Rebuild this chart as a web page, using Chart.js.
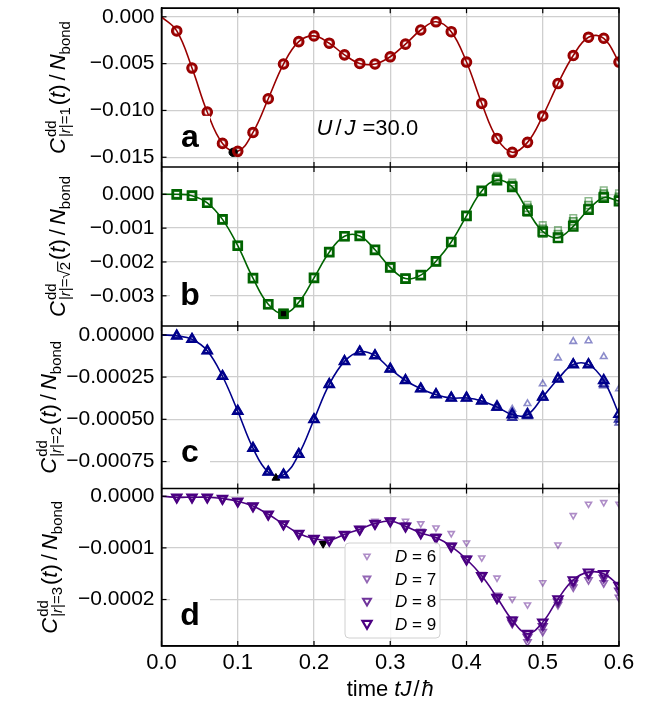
<!DOCTYPE html>
<html><head><meta charset="utf-8">
<script src="https://cdn.jsdelivr.net/npm/chart.js@4.4.1/dist/chart.umd.min.js"></script>
<style>html,body{margin:0;padding:0;background:#fff;}#wrap{position:relative;width:665px;height:707px;}canvas{display:block;}</style>
</head><body><div id="wrap"><canvas id="c" width="665" height="707"></canvas></div>
<script>
// ---------- data ----------
const times = [0.02,0.04,0.06,0.08,0.10,0.12,0.14,0.16,0.18,0.20,0.22,0.24,0.26,0.28,0.30,0.32,0.34,0.36,0.38,0.40,0.42,0.44,0.46,0.48,0.50,0.52,0.54,0.56,0.58,0.60];
const seriesLabels = ['D = 6','D = 7','D = 8','D = 9'];
const xTickValues = [0,0.1,0.2,0.3,0.4,0.5,0.6];
const xTickLabels = ['0.0','0.1','0.2','0.3','0.4','0.5','0.6'];

const yTicksA = [0,-0.005,-0.010,-0.015];
const yTickLabelsA = ['0.000','\u22120.005','\u22120.010','\u22120.015'];
const yRangeA = [-0.01603, 0.00092];
const yTicksB = [0,-0.001,-0.002,-0.003];
const yTickLabelsB = ['0.000','\u22120.001','\u22120.002','\u22120.003'];
const yRangeB = [-0.00389, 0.00081];
const yTicksC = [0,-0.00025,-0.0005,-0.00075];
const yTickLabelsC = ['0.00000','\u22120.00025','\u22120.00050','\u22120.00075'];
const yRangeC = [-0.00091, 0.000053];
const yTicksD = [0,-0.0001,-0.0002];
const yTickLabelsD = ['0.0000','\u22120.0001','\u22120.0002'];
const yRangeD = [-0.00029, 0.0000148];

// panel a: all D coincide
const aAllD = [-0.00151,-0.00547,-0.01017,-0.01352,-0.01437,-0.01235,-0.00875,-0.00504,-0.00265,-0.00204,-0.00282,-0.00406,-0.00498,-0.00504,-0.00427,-0.00292,-0.00141,-0.00053,-0.00159,-0.00483,-0.00925,-0.01299,-0.01447,-0.01341,-0.01059,-0.00713,-0.00413,-0.00218,-0.00229,-0.00483];

const bD9 = [0,-0.00004,-0.00025,-0.00074,-0.00152,-0.00248,-0.00325,-0.00353,-0.00319,-0.00247,-0.00171,-0.00124,-0.00123,-0.00164,-0.00216,-0.00249,-0.00239,-0.00198,-0.00141,-0.00064,0.00010,0.00042,0.00022,-0.00048,-0.00110,-0.00128,-0.00095,-0.00045,-0.00010,-0.00020];
const bD8 = [0,-0.00004,-0.00025,-0.00074,-0.00152,-0.00248,-0.00325,-0.00353,-0.00319,-0.00247,-0.00171,-0.00124,-0.00123,-0.00164,-0.00216,-0.00249,-0.00239,-0.00198,-0.00141,-0.00064,0.00010,0.00045,0.00024,-0.00052,-0.00114,-0.00130,-0.00090,-0.00042,-0.00006,-0.00016];
const bD7 = [0,-0.00004,-0.00025,-0.00074,-0.00152,-0.00248,-0.00325,-0.00353,-0.00319,-0.00247,-0.00171,-0.00124,-0.00123,-0.00164,-0.00216,-0.00249,-0.00239,-0.00198,-0.00141,-0.00064,0.00010,0.00050,0.00028,-0.00040,-0.00102,-0.00118,-0.00080,-0.00032,0.00002,-0.00008];
const bD6 = [0,-0.00004,-0.00025,-0.00074,-0.00152,-0.00248,-0.00325,-0.00353,-0.00319,-0.00247,-0.00171,-0.00124,-0.00123,-0.00164,-0.00216,-0.00249,-0.00239,-0.00198,-0.00141,-0.00064,0.00010,0.00055,0.00035,-0.00031,-0.00091,-0.00106,-0.00070,-0.00020,0.00012,0.00003];

const cD9 = [-0.000006,-0.000026,-0.000094,-0.000245,-0.000452,-0.000671,-0.000812,-0.000828,-0.000707,-0.000501,-0.000293,-0.000157,-0.000100,-0.000123,-0.000202,-0.000270,-0.000319,-0.000354,-0.000374,-0.000374,-0.000391,-0.000427,-0.000472,-0.000472,-0.000368,-0.000261,-0.000176,-0.000176,-0.000270,-0.000470];
const cD8 = [-0.000006,-0.000026,-0.000094,-0.000245,-0.000452,-0.000671,-0.000812,-0.000828,-0.000707,-0.000501,-0.000293,-0.000157,-0.000100,-0.000123,-0.000202,-0.000270,-0.000319,-0.000354,-0.000374,-0.000374,-0.000391,-0.000430,-0.000490,-0.000480,-0.000370,-0.000260,-0.000176,-0.000176,-0.000290,-0.000500];
const cD7 = [-0.000006,-0.000026,-0.000094,-0.000245,-0.000452,-0.000671,-0.000812,-0.000828,-0.000707,-0.000501,-0.000293,-0.000157,-0.000100,-0.000123,-0.000202,-0.000270,-0.000319,-0.000354,-0.000370,-0.000372,-0.000385,-0.000420,-0.000460,-0.000460,-0.000360,-0.000250,-0.000170,-0.000170,-0.000300,-0.000520];
const cD6 = [-0.000006,-0.000026,-0.000094,-0.000245,-0.000452,-0.000671,-0.000812,-0.000828,-0.000707,-0.000501,-0.000293,-0.000157,-0.000100,-0.000123,-0.000202,-0.000270,-0.000319,-0.000340,-0.000360,-0.000360,-0.000380,-0.000410,-0.000440,-0.000407,-0.000290,-0.000137,-0.000039,-0.000035,-0.000129,-0.000320];

const dD9 = [-0.000002,-0.000002,-0.000002,-0.0000045,-0.0000096,-0.000019,-0.000035,-0.000054,-0.000072,-0.000082,-0.000085,-0.000074,-0.000064,-0.000053,-0.000048,-0.000058,-0.000071,-0.000080,-0.000097,-0.000122,-0.000154,-0.000196,-0.000240,-0.000266,-0.000244,-0.000199,-0.000162,-0.000147,-0.000150,-0.000173];
const dD8 = [-0.000002,-0.000002,-0.000002,-0.0000045,-0.0000096,-0.000019,-0.000035,-0.000054,-0.000072,-0.000082,-0.000085,-0.000074,-0.000064,-0.000053,-0.000048,-0.000058,-0.000071,-0.000080,-0.000097,-0.000122,-0.000154,-0.000198,-0.000245,-0.000272,-0.000252,-0.000204,-0.000168,-0.000152,-0.000158,-0.000183];
const dD7 = [-0.000002,-0.000002,-0.000002,-0.0000045,-0.0000096,-0.000019,-0.000035,-0.000054,-0.000072,-0.000082,-0.000085,-0.000074,-0.000064,-0.000053,-0.000048,-0.000056,-0.000068,-0.000078,-0.000095,-0.000120,-0.000152,-0.000192,-0.000238,-0.000282,-0.000262,-0.000210,-0.000176,-0.000162,-0.000168,-0.000196];
const dD6 = [-0.000002,-0.000002,-0.000002,-0.0000045,-0.0000096,-0.000019,-0.000035,-0.000054,-0.000072,-0.000082,-0.000085,-0.000074,-0.000062,-0.000048,-0.000045,-0.000048,-0.000053,-0.000061,-0.000072,-0.000090,-0.000119,-0.000158,-0.000199,-0.000210,-0.000167,-0.000094,-0.000037,-0.000015,-0.000012,-0.000015];

// black reference markers (one per panel a..d)
const minTimes = [0.094, 0.16, 0.150, 0.212];
const minValues = [-0.01447, -0.00355, -0.000847, -0.000092];

// ---------- styles ----------
const FONT = '"Liberation Sans", Arial, Helvetica, sans-serif';
const alphas = [0.45, 0.6, 0.8, 1.0];
const panelDefs = [
  {axis:'ya', rgb:[153,0,0], style:'circle', rot:0, radii:[3.2,3.7,4.2,4.7], bw:[1.6,1.8,2,2.2], minR:4.2,
   series:[aAllD,aAllD,aAllD,aAllD], range:yRangeA, ticks:yTicksA, labels:yTickLabelsA, weight:160, letter:'a', lOff:20, tx:65,
   sub:[{s:'|',z:15},{s:'r',i:1,z:15},{s:'|=1',z:15}]},
  {axis:'yb', rgb:[0,100,0], style:'rect', rot:0, radii:[4.6,5,5.5,6], bw:[1.6,1.8,2,2.2], minR:6,
   series:[bD6,bD7,bD8,bD9], range:yRangeB, ticks:yTicksB, labels:yTickLabelsB, weight:160.3, letter:'b', lOff:21, tx:65,
   sub:[{s:'|',z:15},{s:'r',i:1,z:15},{s:'|=\u221A',z:15},{s:'2',z:15,ov:1}]},
  {axis:'yc', rgb:[0,0,139], style:'triangle', rot:0, radii:[3.8,4.3,4.8,5.4], bw:[1.6,1.8,2,2.2], minR:4.5,
   series:[cD6,cD7,cD8,cD9], range:yRangeC, ticks:yTicksC, labels:yTickLabelsC, weight:164, letter:'c', lOff:27, tx:56,
   sub:[{s:'|',z:15},{s:'r',i:1,z:15},{s:'|=2',z:15}]},
  {axis:'yd', rgb:[75,0,130], style:'triangle', rot:180, radii:[3.5,4,4.6,5.3], bw:[1.6,1.8,2,2.2], minR:4.5,
   series:[dD6,dD7,dD8,dD9], range:yRangeD, ticks:yTicksD, labels:yTickLabelsD, weight:158.7, letter:'d', lOff:21, tx:57,
   sub:[{s:'|',z:15},{s:'r',i:1,z:15},{s:'|=3',z:15}]}
];
const rgba = (c,a)=>`rgba(${c[0]},${c[1]},${c[2]},${a})`;

// ---------- datasets ----------
const datasets = [];
panelDefs.forEach((p,k)=>{
  const d9 = p.series[3];
  datasets.push({type:'line', data:[{x:0,y:0}].concat(times.map((t,i)=>({x:t,y:d9[i]}))),
    yAxisID:p.axis, borderColor:rgba(p.rgb,1), borderWidth:1.6, pointRadius:0, tension:0.4, fill:false, order:10, clip:0});
  datasets.push({type:'line', data:[{x:minTimes[k], y:minValues[k]}], yAxisID:p.axis, showLine:false,
    pointStyle:p.style, rotation:p.rot, pointRadius:p.minR, pointBackgroundColor:'#000', pointBorderColor:'#000', pointBorderWidth:1, order:9, clip:0});
  for (let j=0;j<4;j++){
    datasets.push({type:'line', label:seriesLabels[j], data:times.map((t,i)=>({x:t,y:p.series[j][i]})), yAxisID:p.axis, showLine:false,
      pointStyle:p.style, rotation:p.rot, pointRadius:p.radii[j], pointBackgroundColor:'rgba(0,0,0,0)',
      pointBorderColor:rgba(p.rgb,alphas[j]), pointBorderWidth:p.bw[j], order:8-j, clip:0});
  }
});

// ---------- scales ----------
const GRID = '#cfcfcf';
const scales = {
  x:{type:'linear', position:'bottom', min:0, max:0.6,
     grid:{color:GRID, lineWidth:1.3, drawTicks:false}, border:{color:'#000', width:1.5},
     ticks:{font:{size:22, family:FONT}, color:'#000', padding:4, autoSkip:false, maxRotation:0, callback:(v,i)=>xTickLabels[i]},
     afterBuildTicks:s=>{s.ticks = xTickValues.map(v=>({value:v}));},
     afterFit:s=>{s.height=61; s.paddingLeft=0; s.paddingRight=0;}}
};
// bottom panel first: stacked left axes are laid out top-down in reverse order
[3,2,1,0].forEach(k=>{
  const p = panelDefs[k];
  scales[p.axis] = {type:'linear', position:'left', stack:'panels', stackWeight:p.weight, min:p.range[0], max:p.range[1],
    grid:{color:GRID, lineWidth:1.3, drawTicks:false}, border:{color:'#000', width:1.5},
    ticks:{font:{size:21, family:FONT}, color:'#000', padding:7, autoSkip:false, callback:(v,i)=>p.labels[i]},
    afterBuildTicks:s=>{s.ticks = p.ticks.map(v=>({value:v}));},
    afterFit:s=>{s.width=161.5; s.paddingTop=0; s.paddingBottom=0;}};
});

// ---------- rich text helpers ----------
function fnt(p){ return (p.b?'bold ':'')+(p.i?'italic ':'')+p.z+'px '+FONT; }
function runW(ctx, els){
  let w=0;
  for (const e of els){
    if (e.stack) w += Math.max(runW(ctx,e.stack[0]), runW(ctx,e.stack[1])) + (e.g||0);
    else { ctx.font=fnt(e); w += ctx.measureText(e.s).width + (e.g||0); }
  }
  return w;
}
function drawRun(ctx, els, x, y){
  for (const e of els){
    if (e.stack){
      const w = Math.max(runW(ctx,e.stack[0]), runW(ctx,e.stack[1]));
      drawRun(ctx, e.stack[0], x, y+e.d0);
      drawRun(ctx, e.stack[1], x, y+e.d1);
      x += w + (e.g||0);
    } else {
      ctx.font=fnt(e);
      const w = ctx.measureText(e.s).width;
      ctx.fillText(e.s, x, y+(e.dy||0));
      if (e.ov) ctx.fillRect(x-1, y+(e.dy||0)-e.z*0.86, w+1.5, 1.1);
      x += w + (e.g||0);
    }
  }
  return x;
}
function yTitle(sub){
  return [{s:'C',i:1,z:22,g:1},{stack:[[{s:'dd',z:15}], sub], d0:-9, d1:5, g:2},
          {s:'(',z:22},{s:'t',i:1,z:22},{s:')',z:22,g:4},{s:'/',z:22,g:4},{s:'N',i:1,z:22},{s:'bond',z:15,dy:5}];
}

const decor = {
  id:'decor',
  afterDatasetsDraw(chart){
    const ctx = chart.ctx, ca = chart.chartArea, xs = chart.scales.x;
    ctx.save();
    ctx.strokeStyle='#000';
    const line=(x1,y1,x2,y2)=>{ctx.beginPath();ctx.moveTo(x1,y1);ctx.lineTo(x2,y2);ctx.stroke();};
    panelDefs.forEach(p=>{
      const s = chart.scales[p.axis];
      ctx.lineWidth=1.2;
      xTickValues.forEach(v=>{const x=xs.getPixelForValue(v); line(x,s.top,x,s.top+5); line(x,s.bottom,x,s.bottom-5);});
      p.ticks.forEach(v=>{const y=s.getPixelForValue(v); line(ca.left,y,ca.left+5,y);});
      ctx.lineWidth=1.5;
      line(ca.left, s.top, ca.right, s.top);
    });
    ctx.lineWidth=1.5;
    ctx.strokeRect(ca.left, ca.top, ca.right-ca.left, ca.bottom-ca.top);

    // panel letters with white boxes
    ctx.textBaseline='alphabetic';
    panelDefs.forEach(p=>{
      const s = chart.scales[p.axis];
      const base = s.bottom - p.lOff;
      const cx = ca.left + 28.5;
      ctx.fillStyle='#fff';
      ctx.fillRect(cx-20, base-31, 40, 39);
      ctx.fillStyle='#000';
      ctx.font = 'bold 32px '+FONT;
      ctx.textAlign='center';
      ctx.fillText(p.letter, cx, base);
    });
    ctx.textAlign='left';

    // U/J annotation in panel a
    ctx.fillStyle='#000';
    drawRun(ctx, [{s:'U',i:1,z:22,g:3},{s:'/',z:22,g:3},{s:'J',i:1,z:22,g:7},{s:'=30.0',z:22}], 316.5, 135);

    // legend in panel d
    const pd = panelDefs[3];
    const lx=345, ly=543, lw=95, lh=95;
    ctx.beginPath();
    if (ctx.roundRect) ctx.roundRect(lx, ly, lw, lh, 4); else ctx.rect(lx,ly,lw,lh);
    ctx.fillStyle='rgba(255,255,255,0.85)'; ctx.fill();
    ctx.strokeStyle='#d0d0d0'; ctx.lineWidth=1; ctx.stroke();
    const rows=[556,578.5,601,623.5];
    for (let j=0;j<4;j++){
      ctx.strokeStyle = rgba(pd.rgb, alphas[j]); ctx.fillStyle='rgba(0,0,0,0)'; ctx.lineWidth = pd.bw[j];
      Chart.helpers.drawPoint(ctx, {pointStyle:pd.style, rotation:pd.rot, radius:pd.radii[j], borderWidth:pd.bw[j]}, 367, rows[j]);
      ctx.fillStyle='#000';
      const lab = seriesLabels[j];
      drawRun(ctx, [{s:lab.slice(0,1),i:1,z:17},{s:lab.slice(1),z:17}], 395, rows[j]+6);
    }
    ctx.restore();
  },
  afterDraw(chart){
    const ctx = chart.ctx, ca = chart.chartArea;
    ctx.save();
    ctx.fillStyle='#000'; ctx.textAlign='left'; ctx.textBaseline='alphabetic';
    panelDefs.forEach(p=>{
      const s = chart.scales[p.axis];
      const els = yTitle(p.sub);
      const W = runW(ctx, els);
      ctx.save();
      ctx.translate(p.tx, (s.top+s.bottom)/2);
      ctx.rotate(-Math.PI/2);
      drawRun(ctx, els, -W/2, 0);
      ctx.restore();
    });
    const xt = [{s:'time ',z:22},{s:'t',i:1,z:22},{s:'J',i:1,z:22,g:2},{s:'/',z:22,g:2},{s:'\u0127',i:1,z:22}];
    const W = runW(ctx, xt);
    drawRun(ctx, xt, (ca.left+ca.right)/2 - W/2, 696);
    ctx.restore();
  }
};

Chart.defaults.font.family = FONT;
Chart.defaults.color = '#000';
new Chart(document.getElementById('c'), {
  type:'line',
  data:{datasets},
  options:{
    responsive:false, animation:false, devicePixelRatio:1,
    layout:{padding:{top:3, right:46, left:0, bottom:0}},
    plugins:{legend:{display:false}, tooltip:{enabled:false}, title:{display:false}},
    scales
  },
  plugins:[decor]
});
</script></body></html>
